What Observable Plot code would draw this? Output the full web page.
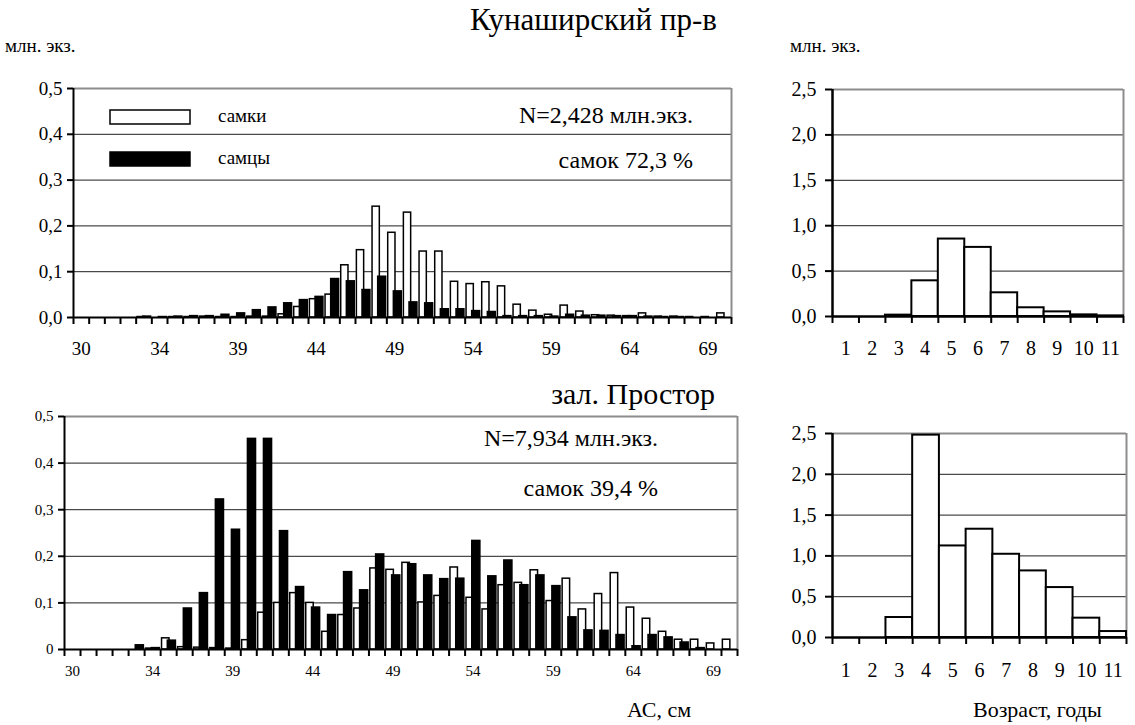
<!DOCTYPE html>
<html>
<head>
<meta charset="utf-8">
<script src="https://cdn.jsdelivr.net/npm/d3@7"></script>
<script src="https://cdn.jsdelivr.net/npm/@observablehq/plot@0.6"></script>
<style>
  body { margin: 0; background: #fff; }
  #page { position: relative; width: 1135px; height: 725px; overflow: hidden; background: #fff;
    font-family: "Liberation Serif", "DejaVu Serif", serif; }
  .chart { position: absolute; }
  .chart svg { display: block; }
</style>
</head>
<body>
<div id="page">
  <div class="chart" id="kun-length" style="left:0px;top:70px"></div>
  <div class="chart" id="kun-age" style="left:760px;top:70px"></div>
  <div class="chart" id="pr-length" style="left:0px;top:400px"></div>
  <div class="chart" id="pr-age" style="left:760px;top:400px"></div>
</div>
<script>
// Length classes (AC, cm), one pair of bars per class; every fifth class is labelled
const lengthClasses = [30, 30, 31, 32, 33, 34, 35, 36, 37, 38, 39, 40, 41, 42, 43, 44, 45, 46, 47, 48, 49,
  50, 51, 52, 53, 54, 55, 56, 57, 58, 59, 60, 61, 62, 63, 64, 65, 66, 67, 68, 69, 70];
const lengthLabelStep = 5;

// Кунаширский пролив, млн. экз. by length class
const kunFemales = [0, 0, 0, 0, 0.001, 0, 0.001, 0.001, 0.002, 0.001, 0.001, 0.002, 0.002, 0.007, 0.023,
  0.040, 0.050, 0.114, 0.147, 0.242, 0.185, 0.229, 0.144, 0.144, 0.078, 0.073, 0.077, 0.068, 0.028, 0.015,
  0.006, 0.026, 0.013, 0.005, 0.004, 0.003, 0.009, 0.002, 0.002, 0.001, 0.001, 0.009];
const kunMales = [0, 0, 0, 0, 0.002, 0.001, 0.002, 0.003, 0.003, 0.006, 0.009, 0.016, 0.022, 0.031, 0.038,
  0.045, 0.084, 0.079, 0.060, 0.089, 0.057, 0.033, 0.031, 0.018, 0.018, 0.014, 0.012, 0.003, 0.003, 0.003,
  0.002, 0.006, 0.004, 0.004, 0.003, 0.003, 0.002, 0.001, 0.001, 0, 0, 0];

// залив Простор, млн. экз. by length class
const prFemales = [0, 0, 0, 0, 0, 0.002, 0.024, 0.005, 0.004, 0.003, 0.002, 0.020, 0.079, 0.100, 0.121,
  0.100, 0.038, 0.074, 0.088, 0.174, 0.171, 0.186, 0.101, 0.115, 0.176, 0.111, 0.086, 0.138, 0.143, 0.170,
  0.104, 0.152, 0.086, 0.119, 0.164, 0.090, 0.066, 0.038, 0.021, 0.021, 0.013, 0.021];
const prMales = [0, 0, 0, 0, 0.009, 0.003, 0.019, 0.088, 0.121, 0.322, 0.257, 0.452, 0.452, 0.254, 0.134,
  0.090, 0.074, 0.166, 0.127, 0.204, 0.159, 0.183, 0.159, 0.151, 0.152, 0.233, 0.157, 0.191, 0.138, 0.159,
  0.136, 0.069, 0.041, 0.040, 0.031, 0.007, 0.031, 0.026, 0.015, 0.003, 0, 0];

// Age composition, млн. экз.
const ages = [1, 2, 3, 4, 5, 6, 7, 8, 9, 10, 11];
const kunAge = [0, 0, 0.015, 0.393, 0.853, 0.761, 0.261, 0.096, 0.051, 0.018, 0.007];
const prAge = [0, 0, 0.245, 2.48, 1.122, 1.327, 1.02, 0.816, 0.612, 0.237, 0.073];

// Axis tick values and their printed labels
const lengthYTicks = [0, 0.1, 0.2, 0.3, 0.4, 0.5];
const kunLengthYLabels = ["0,0", "0,1", "0,2", "0,3", "0,4", "0,5"];
const prLengthYLabels = ["0", "0,1", "0,2", "0,3", "0,4", "0,5"];
const ageYTicks = [0, 0.5, 1, 1.5, 2, 2.5];
const ageYLabels = ["0,0", "0,5", "1,0", "1,5", "2,0", "2,5"];

const FONT = "'Liberation Serif', 'DejaVu Serif', serif";
const GRID = "#1e1e1e";
const FRAME = "#8c8c8c";

function lengthChart(o) {
  const rows = lengthClasses.map((c, i) => ({i, c, f: o.females[i], m: o.males[i]}));
  const n = rows.length;
  const bw = (o.width - o.ml - o.mr) / n;
  const bounds = rows.map(d => d.i).concat(n);
  const labelled = rows.filter(d => d.i % lengthLabelStep === 0).map(d => d.i + 0.5);
  const yMax = o.yTicks[o.yTicks.length - 1];
  return Plot.plot({
    width: o.width, height: o.height,
    marginLeft: o.ml, marginRight: o.mr, marginTop: o.mt, marginBottom: o.mb,
    x: {domain: [0, n]},
    y: {domain: [0, yMax]},
    style: {fontFamily: FONT, fontSize: o.font + "px", color: "black", background: "transparent", overflow: "visible"},
    marks: [
      Plot.ruleY(o.yTicks.slice(1, -1), {stroke: GRID, strokeWidth: 1}),
      Plot.ruleY([yMax], {stroke: FRAME, strokeWidth: 2}),
      Plot.ruleX([n], {stroke: FRAME, strokeWidth: 2}),
      Plot.rectY(rows, {x1: "i", x2: d => d.i + 1, y: "f", fill: "white", stroke: "black", strokeWidth: 1.5,
        insetLeft: 0.04 * bw + 0.75, insetRight: 0.4 * bw + 0.75}),
      Plot.rectY(rows, {x1: "i", x2: d => d.i + 1, y: "m", fill: "black", stroke: "black", strokeWidth: 1.5,
        insetLeft: 0.4 * bw + 0.75, insetRight: 0.75}),
      Plot.axisX({ticks: bounds, tickSize: 7, strokeWidth: 2, tickFormat: () => "", label: null}),
      Plot.axisX({ticks: labelled, tickSize: 0, tickPadding: o.xPad, fontFamily: FONT,
        tickFormat: v => String(lengthClasses[v - 0.5]), label: null}),
      Plot.axisY({ticks: o.yTicks, tickSize: 6, tickPadding: 5, strokeWidth: 2, fontFamily: FONT,
        tickFormat: v => o.yLabels[o.yTicks.indexOf(v)], label: null}),
      Plot.ruleY([0], {stroke: "black", strokeWidth: 2}),
      Plot.ruleX([0], {stroke: "black", strokeWidth: 2})
    ]
  });
}

function ageChart(o) {
  const rows = ages.map((a, i) => ({a, v: o.values[i]}));
  const lo = ages[0] - 0.5, hi = ages[ages.length - 1] + 0.5;
  const yMax = ageYTicks[ageYTicks.length - 1];
  return Plot.plot({
    width: o.width, height: o.height,
    marginLeft: o.ml, marginRight: o.mr, marginTop: o.mt, marginBottom: o.mb,
    x: {domain: [lo, hi]},
    y: {domain: [0, yMax]},
    style: {fontFamily: FONT, fontSize: "20px", color: "black", background: "transparent", overflow: "visible"},
    marks: [
      Plot.ruleY(ageYTicks.slice(1, -1), {stroke: GRID, strokeWidth: 1}),
      Plot.ruleY([yMax], {stroke: FRAME, strokeWidth: 2}),
      Plot.ruleX([hi], {stroke: FRAME, strokeWidth: 2}),
      Plot.rectY(rows, {x1: d => d.a - 0.5, x2: d => d.a + 0.5, y: "v", fill: "white", stroke: "black", strokeWidth: 2}),
      Plot.axisX({ticks: ages.map(a => a - 0.5).concat(hi), tickSize: 7, strokeWidth: 2, tickFormat: () => "", label: null}),
      Plot.axisX({ticks: ages, tickSize: 0, tickPadding: o.xPad, fontFamily: FONT, tickFormat: d => String(d), label: null}),
      Plot.axisY({ticks: ageYTicks, tickSize: 7, tickPadding: 9, strokeWidth: 2, fontFamily: FONT,
        tickFormat: v => ageYLabels[ageYTicks.indexOf(v)], label: null}),
      Plot.ruleY([0], {stroke: "black", strokeWidth: 2.5}),
      Plot.ruleX([lo], {stroke: "black", strokeWidth: 2.5})
    ]
  });
}

document.getElementById("kun-length").append(lengthChart({
  females: kunFemales, males: kunMales, yTicks: lengthYTicks, yLabels: kunLengthYLabels,
  width: 745, height: 290, ml: 73, mr: 14, mt: 18, mb: 43, font: 19, xPad: 24
}));
document.getElementById("pr-length").append(lengthChart({
  females: prFemales, males: prMales, yTicks: lengthYTicks, yLabels: prLengthYLabels,
  width: 745, height: 290, ml: 64, mr: 8, mt: 16, mb: 41, font: 15, xPad: 16
}));
document.getElementById("kun-age").append(ageChart({
  values: kunAge, width: 375, height: 290, ml: 72, mr: 12, mt: 19, mb: 44, xPad: 24
}));
document.getElementById("pr-age").append(ageChart({
  values: prAge, width: 375, height: 290, ml: 72, mr: 9, mt: 33, mb: 53, xPad: 25
}));

// Titles, units, legend and totals
const overlay = d3.select("#page").append("svg")
  .attr("width", 1135).attr("height", 725)
  .style("position", "absolute").style("left", 0).style("top", 0)
  .style("pointer-events", "none")
  .style("font-family", FONT);

function label(x, y, text, size, anchor = "start") {
  overlay.append("text").attr("x", x).attr("y", y).style("font-size", size + "px")
    .style("font-family", FONT)
    .attr("text-anchor", anchor).attr("fill", "black").text(text);
}

label(717, 30, "Кунаширский пр-в", 31, "end");
label(5, 52, "млн. экз.", 19);
label(790, 52, "млн. экз.", 19);

overlay.append("rect").attr("x", 110).attr("y", 110).attr("width", 80).attr("height", 14)
  .attr("fill", "white").attr("stroke", "black").attr("stroke-width", 1.5);
overlay.append("rect").attr("x", 110).attr("y", 152).attr("width", 80).attr("height", 14)
  .attr("fill", "black").attr("stroke", "black").attr("stroke-width", 1.5);
label(218, 122, "самки", 19);
label(218, 164, "самцы", 19);

label(693, 123, "N=2,428 млн.экз.", 24, "end");
label(693, 168, "самок 72,3 %", 24, "end");

label(715, 404, "зал. Простор", 30, "end");
label(658, 446, "N=7,934 млн.экз.", 24, "end");
label(658, 496, "самок 39,4 %", 24, "end");

label(627, 717, "АС, см", 22);
label(973, 717, "Возраст, годы", 22);
</script>
</body>
</html>
